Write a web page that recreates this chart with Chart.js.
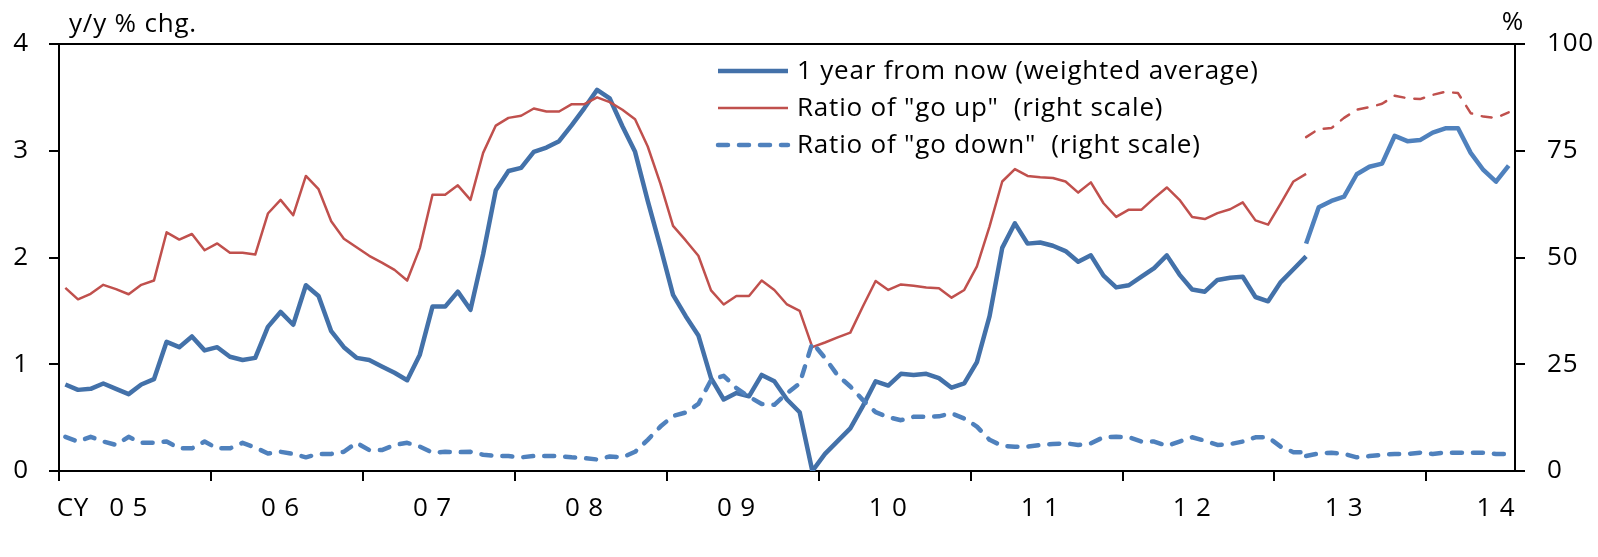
<!DOCTYPE html>
<html>
<head>
<meta charset="utf-8">
<script src="https://cdn.jsdelivr.net/npm/chart.js@4/dist/chart.umd.min.js"></script>
<style>
  html, body { margin: 0; padding: 0; background: #fff; }
</style>
</head>
<body>
<canvas id="chart" width="1598" height="557"></canvas>
<script>
// monthly, Jan 2005 - Jul 2014; survey method changed from Mar 2013
const START_YEAR = 2005;
const N_MONTHS = 115;
const BREAK_IDX = 98; // Mar 2013, present in both old and new series

const yearLabels = ['0 5', '0 6', '0 7', '0 8', '0 9', '1 0', '1 1', '1 2', '1 3', '1 4'];

// 1 year from now (weighted average), y/y % chg. -- old method, Jan05..Mar13
const expectOld = [
  0.81, 0.76, 0.77, 0.82, 0.77, 0.72, 0.81, 0.86, 1.21, 1.16, 1.26, 1.13,
  1.16, 1.07, 1.04, 1.06, 1.35, 1.49, 1.37, 1.74, 1.64, 1.31, 1.16, 1.06,
  1.04, 0.98, 0.92, 0.85, 1.09, 1.54, 1.54, 1.68, 1.51, 2.03, 2.63, 2.81,
  2.84, 2.99, 3.03, 3.09, 3.24, 3.40, 3.57, 3.49, 3.23, 2.99, 2.53, 2.10,
  1.65, 1.45, 1.27, 0.87, 0.67, 0.73, 0.70, 0.90, 0.84, 0.67, 0.55, 0.00,
  0.16, 0.28, 0.40, 0.61, 0.84, 0.80, 0.91, 0.90, 0.91, 0.87, 0.78, 0.82,
  1.02, 1.45, 2.09, 2.32, 2.13, 2.14, 2.11, 2.06, 1.96, 2.02, 1.83, 1.72,
  1.74, 1.82, 1.90, 2.02, 1.84, 1.70, 1.68, 1.79, 1.81, 1.82, 1.63, 1.59,
  1.77, 1.89, 2.01
];
// new method, Mar13..Jul14
const expectNew = [2.13, 2.47, 2.53, 2.57, 2.78, 2.85, 2.88, 3.14, 3.09, 3.10, 3.17, 3.21, 3.21, 2.98, 2.82, 2.71, 2.86];

// Ratio of "go up", % (right scale)
const upOld = [
  42.9, 40.2, 41.5, 43.6, 42.6, 41.4, 43.6, 44.6, 55.9, 54.2, 55.5, 51.7,
  53.3, 51.1, 51.1, 50.7, 60.3, 63.5, 59.9, 69.1, 66.0, 58.5, 54.4, 52.4,
  50.4, 48.8, 47.1, 44.6, 52.2, 64.7, 64.7, 66.9, 63.5, 74.5, 80.9, 82.7,
  83.2, 84.9, 84.2, 84.2, 85.9, 85.9, 87.5, 86.4, 84.6, 82.4, 76.0, 67.3,
  57.4, 54.0, 50.4, 42.3, 39.0, 41.0, 41.0, 44.6, 42.4, 39.0, 37.5, 29.0,
  30.1, 31.3, 32.4, 38.6, 44.5, 42.4, 43.7, 43.4, 43.0, 42.8, 40.6, 42.4,
  47.9, 57.3, 67.8, 70.7, 69.1, 68.8, 68.6, 67.8, 65.2, 67.6, 62.7, 59.5,
  61.2, 61.2, 63.9, 66.4, 63.5, 59.5, 59.0, 60.4, 61.3, 62.9, 58.7, 57.7,
  62.7, 67.8, 69.6
];
const upNew = [78.2, 80.1, 80.3, 82.7, 84.6, 85.2, 86.0, 87.9, 87.3, 87.1, 88.1, 88.8, 88.5, 83.8, 83.0, 82.7, 84.0];

// Ratio of "go down", % (right scale)
const downOld = [
  8.0, 6.9, 8.0, 6.9, 6.1, 8.0, 6.6, 6.6, 6.9, 5.3, 5.3, 6.9,
  5.3, 5.3, 6.6, 5.5, 4.1, 4.5, 4.0, 3.2, 4.0, 4.0, 4.5, 6.6,
  4.9, 4.9, 6.1, 6.6, 5.7, 4.3, 4.5, 4.4, 4.5, 3.8, 3.5, 3.5,
  3.2, 3.5, 3.5, 3.5, 3.2, 3.0, 2.7, 3.4, 3.2, 4.5, 7.3, 10.4,
  12.9, 13.7, 15.7, 21.3, 22.3, 19.4, 17.4, 15.7, 15.5, 18.2, 20.5, 30.0,
  26.5, 22.4, 19.8, 16.6, 13.8, 12.6, 11.9, 12.7, 12.7, 12.8, 13.5, 12.3,
  10.4, 7.3, 5.9, 5.7, 5.7, 6.1, 6.3, 6.5, 6.1, 6.5, 7.9, 8.0,
  7.9, 6.9, 6.9, 5.9, 6.9, 7.9, 7.1, 6.1, 6.3, 6.9, 7.9, 7.9,
  5.7, 4.4, 4.4
];
const downNew = [3.5, 4.1, 4.3, 4.0, 3.2, 3.5, 3.8, 4.0, 4.0, 4.3, 4.0, 4.3, 4.3, 4.3, 4.3, 4.0, 4.0];

const legendLabels = ['1 year from now (weighted average)', 'Ratio of "go up"  (right scale)', 'Ratio of "go down"  (right scale)'];

const months = [];
for (let i = 0; i < N_MONTHS; i++) {
  months.push(`${START_YEAR + Math.floor(i / 12)}-${String(i % 12 + 1).padStart(2, '0')}`);
}
const padOld = arr => arr.concat(new Array(N_MONTHS - arr.length).fill(null));
const padNew = arr => new Array(BREAK_IDX).fill(null).concat(arr);

const FONT = '"Open Sans"';
const FONT_SIZE = 26;
const SPACING = '0.8px'; // the original font runs a bit wider than Open Sans
const BLUE_DARK = '#4371A9';
const BLUE = '#4F81BD';
const RED = '#C0504D';

const blueLine = { borderColor: BLUE_DARK, borderWidth: 4.5, yAxisID: 'y' };
const redLine = { borderColor: RED, borderWidth: 2.5, yAxisID: 'y1' };
const downLine = { borderColor: BLUE, borderWidth: 4.5, borderDash: [10, 11], borderCapStyle: 'round', yAxisID: 'y1' };

const datasets = [
  { ...downLine, data: padOld(downOld) },
  { ...downLine, data: padNew(downNew) },
  { ...redLine, data: padOld(upOld) },
  { ...redLine, data: padNew(upNew), borderDash: [10, 10], borderCapStyle: 'round' },
  { ...blueLine, data: padOld(expectOld) },
  { ...blueLine, data: padNew(expectNew), borderColor: BLUE }
];

// legend drawn inside the plot, one row per series
const legendSrc = [blueLine, redLine, downLine];

const framePlugin = {
  id: 'frame',
  beforeDraw(chart) {
    chart.ctx.letterSpacing = SPACING;
  },
  afterDraw(chart) {
    const { ctx, chartArea: a } = chart;
    ctx.save();
    // top border of plot area
    ctx.strokeStyle = '#000';
    ctx.lineWidth = 2;
    ctx.beginPath();
    ctx.moveTo(a.left, a.top);
    ctx.lineTo(a.right, a.top);
    ctx.stroke();

    // unit labels
    ctx.fillStyle = '#000';
    ctx.font = `${FONT_SIZE}px ${FONT}`;
    ctx.letterSpacing = SPACING;
    ctx.textBaseline = 'middle';
    ctx.textAlign = 'left';
    ctx.fillText('y/y % chg.', a.left + 10, a.top - 19);
    ctx.textAlign = 'right';
    ctx.fillText('%', a.right + 9, a.top - 21);

    // legend
    const lx = a.left + 659, ly = a.top + 27, rowH = 37, sw = 70;
    legendSrc.forEach((s, i) => {
      const y = ly + i * rowH;
      ctx.strokeStyle = s.borderColor;
      ctx.lineWidth = s.borderWidth;
      ctx.lineCap = s.borderCapStyle || 'butt';
      ctx.setLineDash(s.borderDash || []);
      ctx.beginPath();
      ctx.moveTo(lx, y);
      ctx.lineTo(lx + sw, y);
      ctx.stroke();
      ctx.setLineDash([]);
      ctx.textAlign = 'left';
      ctx.fillText(legendLabels[i], lx + sw + 9, y + 1);
    });
    ctx.restore();
  }
};

const ctx = document.getElementById('chart');
const chart = new Chart(ctx, {
  type: 'line',
  data: { labels: months, datasets },
  plugins: [framePlugin],
  options: {
    responsive: false,
    animation: false,
    devicePixelRatio: 1,
    layout: { padding: { top: 44, left: 0, right: 0, bottom: 0 } },
    elements: {
      point: { radius: 0 },
      line: { tension: 0, borderJoinStyle: 'round', fill: false }
    },
    plugins: { legend: { display: false }, tooltip: { enabled: false } },
    scales: {
      x: {
        type: 'category',
        offset: true,
        afterFit: s => { s.height = 86; },
        border: { display: true, color: '#000', width: 2 },
        grid: {
          offset: true,
          drawOnChartArea: false,
          tickLength: 10,
          lineWidth: 2,
          tickColor: c => (c.index !== undefined && c.index % 12 === 0 ? '#000' : 'rgba(0,0,0,0)')
        },
        ticks: {
          autoSkip: false,
          maxRotation: 0,
          minRotation: 0,
          padding: 12,
          color: '#000',
          font: { family: FONT, size: FONT_SIZE },
          callback: (v, i) => {
            if (i === 0) return '  CY';
            if (i % 12 === 5) return yearLabels[(i - 5) / 12];
            return '';
          }
        }
      },
      y: {
        position: 'left',
        min: 0, max: 4,
        afterFit: s => { s.width = 59; },
        border: { display: true, color: '#000', width: 2 },
        grid: { drawOnChartArea: false, tickLength: 10, lineWidth: 2, tickColor: '#000' },
        ticks: { stepSize: 1, padding: 20, color: '#000', font: { family: FONT, size: FONT_SIZE } }
      },
      y1: {
        position: 'right',
        min: 0, max: 100,
        afterFit: s => { s.width = 83; },
        border: { display: true, color: '#000', width: 2 },
        grid: { drawOnChartArea: false, tickLength: 10, lineWidth: 2, tickColor: '#000' },
        ticks: { stepSize: 25, padding: 22, color: '#000', font: { family: FONT, size: FONT_SIZE } }
      }
    }
  }
});
</script>
</body>
</html>
